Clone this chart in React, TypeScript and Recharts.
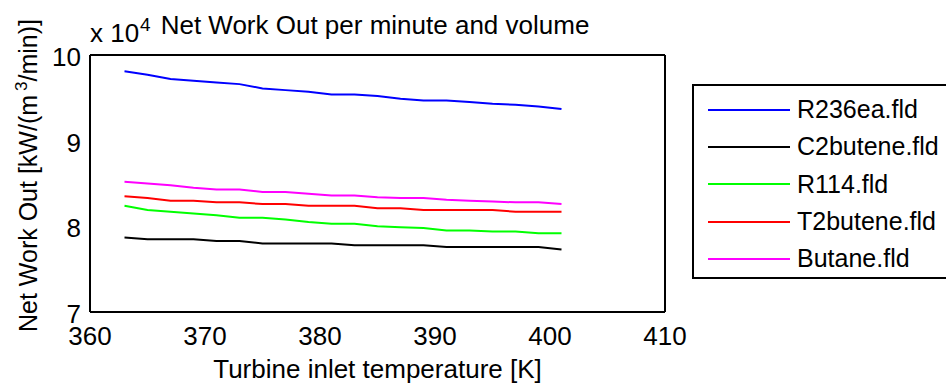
import React from "react"
import { LineChart, Line, XAxis, YAxis } from "recharts"

// turbine inlet temperature [K]
const temps = [363, 365, 367, 369, 371, 373, 375, 377, 379, 381, 383, 385, 387, 389, 391, 393, 395, 397, 399, 401]

// net work out, in units of 10^4 kW/(m^3/min)
const r236ea = [9.81, 9.77, 9.72, 9.7, 9.68, 9.66, 9.61, 9.59, 9.57, 9.54, 9.54, 9.52, 9.49, 9.47, 9.47, 9.45, 9.43, 9.42, 9.4, 9.37]
const c2butene = [7.87, 7.85, 7.85, 7.85, 7.83, 7.83, 7.8, 7.8, 7.8, 7.8, 7.78, 7.78, 7.78, 7.78, 7.76, 7.76, 7.76, 7.76, 7.76, 7.73]
const r114 = [8.24, 8.19, 8.17, 8.15, 8.13, 8.1, 8.1, 8.08, 8.05, 8.03, 8.03, 8.0, 7.99, 7.98, 7.95, 7.95, 7.94, 7.94, 7.92, 7.92]
const t2butene = [8.35, 8.33, 8.3, 8.3, 8.28, 8.28, 8.26, 8.26, 8.24, 8.24, 8.24, 8.21, 8.21, 8.19, 8.19, 8.19, 8.19, 8.17, 8.17, 8.17]
const butane = [8.52, 8.5, 8.48, 8.45, 8.43, 8.43, 8.4, 8.4, 8.38, 8.36, 8.36, 8.34, 8.33, 8.33, 8.31, 8.3, 8.29, 8.28, 8.28, 8.26]

const xTicks = [360, 370, 380, 390, 400, 410]
const yTicks = [7, 8, 9, 10]

const series = [
  { key: "r236ea", name: "R236ea.fld", color: "#0000ff" },
  { key: "c2butene", name: "C2butene.fld", color: "#000000" },
  { key: "r114", name: "R114.fld", color: "#00ff00" },
  { key: "t2butene", name: "T2butene.fld", color: "#ff0000" },
  { key: "butane", name: "Butane.fld", color: "#ff00ff" },
]

const data = temps.map((t, i) => ({
  t,
  r236ea: r236ea[i],
  c2butene: c2butene[i],
  r114: r114[i],
  t2butene: t2butene[i],
  butane: butane[i],
}))

const FONT = '"Liberation Sans", Arial, sans-serif'
const FS = 26
const axisStroke = { stroke: "#000", strokeWidth: 2 }
const tickStroke = { stroke: "#000", strokeWidth: 1.5 }

function XTick({ x, y, payload }: any) {
  return (
    <text x={x} y={y} dy={33} textAnchor="middle" fontSize={FS} fontFamily={FONT} fill="#000">
      {payload.value}
    </text>
  )
}

function YTick({ x, y, payload }: any) {
  return (
    <text x={x} y={y} dy={11} textAnchor="end" fontSize={FS} fontFamily={FONT} fill="#000">
      {payload.value}
    </text>
  )
}

function XLabel({ viewBox }: any) {
  const { x, y, width, height } = viewBox
  return (
    <text x={x + width / 2} y={y + height - 5} textAnchor="middle" fontSize={FS} fontFamily={FONT} fill="#000">
      Turbine inlet temperature [K]
    </text>
  )
}

function YLabel({ viewBox }: any) {
  const cx = 37
  const cy = viewBox.y + viewBox.height / 2 - 8
  return (
    <text
      x={cx}
      y={cy}
      transform={`rotate(-90 ${cx} ${cy})`}
      textAnchor="middle"
      fontSize={25}
      fontFamily={FONT}
      fill="#000"
    >
      Net Work Out [kW/(m
      <tspan dx={4} dy={-10} fontSize={17}>3</tspan>
      <tspan dy={10}>/min)]</tspan>
    </text>
  )
}

function LegendBox() {
  return (
    <div
      style={{
        position: "absolute",
        left: 692,
        top: 84,
        width: 256,
        height: 195,
        border: "2px solid #000",
        background: "#fff",
        fontFamily: FONT,
        fontSize: 25,
        paddingTop: 5,
        boxSizing: "border-box",
      }}
    >
      {series.map((s) => (
        <div key={s.key} style={{ display: "flex", alignItems: "center", height: 37.3 }}>
          <svg width={82} height={10} style={{ marginLeft: 14, flex: "none" }}>
            <line x1={0} y1={5} x2={82} y2={5} stroke={s.color} strokeWidth={2} />
          </svg>
          <span style={{ marginLeft: 7, lineHeight: 1 }}>{s.name}</span>
        </div>
      ))}
    </div>
  )
}

export default function App() {
  return (
    <div style={{ position: "absolute", left: 0, top: 0, width: 946, height: 383, background: "#fff", overflow: "hidden" }}>
      <LineChart width={946} height={383} data={data} margin={{ top: 55, right: 281, bottom: 0, left: 0 }}>
        {/* axes carrying the labels */}
        <XAxis
          dataKey="t"
          type="number"
          domain={[360, 410]}
          ticks={xTicks}
          height={71}
          axisLine={axisStroke}
          tickLine={false}
          tickSize={0}
          tickMargin={0}
          tick={<XTick />}
          label={<XLabel />}
        />
        <YAxis
          type="number"
          domain={[7, 10]}
          ticks={yTicks}
          width={90}
          axisLine={axisStroke}
          tickLine={false}
          tickSize={0}
          tickMargin={9}
          tick={<YTick />}
          label={<YLabel />}
        />
        {/* inward ticks and the box */}
        <XAxis xAxisId="bt" dataKey="t" type="number" domain={[360, 410]} ticks={xTicks} mirror axisLine={false}
          tickLine={tickStroke} tickSize={5} tick={false} />
        <XAxis xAxisId="top" orientation="top" dataKey="t" type="number" domain={[360, 410]} ticks={xTicks} mirror
          axisLine={axisStroke} tickLine={tickStroke} tickSize={5} tick={false} />
        <YAxis yAxisId="lt" type="number" domain={[7, 10]} ticks={yTicks} mirror axisLine={false}
          tickLine={tickStroke} tickSize={5} tick={false} />
        <YAxis yAxisId="rt" orientation="right" type="number" domain={[7, 10]} ticks={yTicks} mirror
          axisLine={axisStroke} tickLine={tickStroke} tickSize={5} tick={false} />
        {series.map((s) => (
          <Line
            key={s.key}
            type="linear"
            dataKey={s.key}
            name={s.name}
            stroke={s.color}
            strokeWidth={2}
            dot={false}
            isAnimationActive={false}
          />
        ))}
      </LineChart>
      <LegendBox />
      <svg width={946} height={60} style={{ position: "absolute", left: 0, top: 0, pointerEvents: "none" }}>
        <text x={90} y={42} fontSize={FS} fontFamily={FONT} fill="#000">x 10</text>
        <text x={140} y={31} fontSize={19} fontFamily={FONT} fill="#000">4</text>
        <text x={375} y={34} textAnchor="middle" fontSize={FS} fontFamily={FONT} fill="#000">
          Net Work Out per minute and volume
        </text>
      </svg>
    </div>
  )
}
